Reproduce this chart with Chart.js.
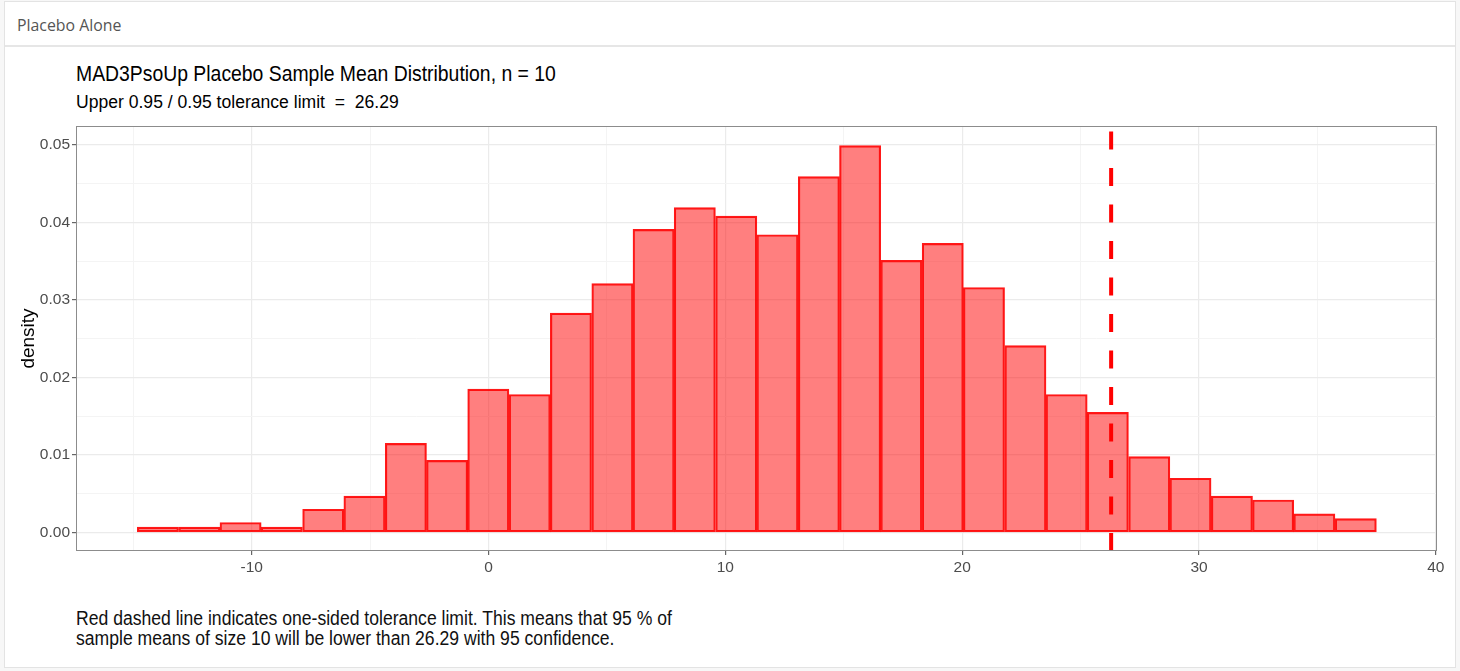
<!DOCTYPE html>
<html>
<head>
<meta charset="utf-8">
<title>Placebo Alone</title>
<script src="https://cdn.jsdelivr.net/npm/chart.js@4.4.0/dist/chart.umd.min.js"></script>
<style>
    html, body { margin: 0; padding: 0; }
    body {
        width: 1460px; height: 671px; position: relative; overflow: hidden;
        background: #f7f7f7;
        font-family: "Liberation Sans", Arial, sans-serif;
    }
    .panel {
        position: absolute; left: 4px; top: 1px; width: 1452px; height: 667px;
        background: #fff; border: 1px solid #e3e3e3; box-sizing: border-box;
    }
    .panel-head {
        position: absolute; left: 0; top: 0; right: 0; height: 43px;
        border-bottom: 2px solid #e6e6e6;
    }
    .fit { position: absolute; white-space: nowrap; transform-origin: 0 0; line-height: 1; }
    #head-text { left: 17px; top: 17px; font-family: "Open Sans", sans-serif; font-size: 16px; color: #555; }
    #plot-title { left: 76px; top: 63px; font-size: 22px; color: #000; }
    #plot-subtitle { left: 76px; top: 93px; font-size: 18px; color: #000; }
    #note { left: 76px; top: 609px; font-size: 20px; line-height: 19.5px; color: #111; }
    #chart-box { position: absolute; left: 10px; top: 120px; width: 1440px; height: 460px; }
</style>
</head>
<body>
<div class="panel">
    <div class="panel-head"></div>
</div>
<div class="fit" id="head-text" data-w="104">Placebo Alone</div>
<div class="fit" id="plot-title" data-w="480">MAD3PsoUp Placebo Sample Mean Distribution, n = 10</div>
<div class="fit" id="plot-subtitle" data-w="323">Upper 0.95 / 0.95 tolerance limit &nbsp;= &nbsp;26.29</div>
<div class="fit" id="note" data-w="596">Red dashed line indicates one-sided tolerance limit. This means that 95 % of<br>sample means of size 10 will be lower than 26.29 with 95 confidence.</div>
<div id="chart-box"><canvas id="hist" width="1440" height="460"></canvas></div>

<script>
// bin centres of the histogram (bin width ~1.744)
const binCenters = [-13.96, -12.21, -10.47, -8.73, -6.98, -5.24, -3.49, -1.75, -0.01, 1.74,
    3.48, 5.23, 6.97, 8.71, 10.46, 12.20, 13.95, 15.69, 17.43, 19.18,
    20.92, 22.67, 24.41, 26.15, 27.90, 29.64, 31.39, 33.13, 34.87, 36.62];
const density = [0.0007, 0.0007, 0.0013, 0.0007, 0.0030, 0.0047, 0.0115, 0.0093, 0.0185, 0.0178,
    0.0283, 0.0321, 0.0391, 0.0419, 0.0408, 0.0384, 0.0459, 0.0499, 0.0351, 0.0373,
    0.0316, 0.0241, 0.0178, 0.0155, 0.0098, 0.0070, 0.0047, 0.0042, 0.0024, 0.0018];
const tolLimit = 26.29;
const xTickLabels = [-10, 0, 10, 20, 30, 40];
const yTickLabels = ["0.00", "0.01", "0.02", "0.03", "0.04", "0.05"];

const xRange = [-17.42, 40.05];
const yRange = [-0.00238, 0.05243];

// shrink / widen each text block to the width it has in the reference
document.querySelectorAll(".fit").forEach(el => {
    const target = parseFloat(el.dataset.w);
    const w = el.scrollWidth;
    el.style.transform = `scaleX(${target / w})`;
});

const isMajorX = v => xTickLabels.some(t => Math.abs(t - v) < 1e-6);
const isMajorY = v => yTickLabels.some(t => Math.abs(parseFloat(t) - v) < 1e-6);

// full box round the plotting area, like theme_bw
const panelBorder = {
    id: "panelBorder",
    afterDraw(chart) {
        const {ctx, chartArea: a} = chart;
        ctx.save();
        ctx.strokeStyle = "#8c8c8c";
        ctx.lineWidth = 1;
        ctx.strokeRect(a.left + 0.5, a.top + 0.5, a.right - a.left - 1, a.bottom - a.top - 1);
        ctx.restore();
    }
};

const tickFont = {family: "'Liberation Sans', Arial, sans-serif", size: 15.5};

new Chart(document.getElementById("hist").getContext("2d"), {
    type: "bar",
    data: {
        datasets: [
            {
                type: "line",
                data: [{x: tolLimit, y: yRange[0]}, {x: tolLimit, y: yRange[1]}],
                borderColor: "#ff0000",
                borderWidth: 4,
                borderDash: [18, 18.5],
                borderCapStyle: "butt",
                pointRadius: 0,
                fill: false,
                order: 0
            },
            {
                data: binCenters.map((c, i) => ({x: c, y: density[i]})),
                backgroundColor: "rgba(255, 0, 0, 0.5)",
                borderColor: "rgba(255, 0, 0, 0.9)",
                borderWidth: 1.5,
                borderSkipped: false,
                barPercentage: 1,
                categoryPercentage: 1,
                order: 1
            }
        ]
    },
    options: {
        responsive: false,
        animation: false,
        layout: {padding: {left: 0, right: 13, top: 6, bottom: 0}},
        plugins: {legend: {display: false}, tooltip: {enabled: false}},
        scales: {
            x: {
                type: "linear",
                min: xRange[0],
                max: xRange[1],
                offset: false,
                border: {display: false},
                grid: {
                    offset: false,
                    color: c => isMajorX(c.tick.value) ? "#ebebeb" : "#f4f4f4",
                    lineWidth: c => isMajorX(c.tick.value) ? 1.2 : 1,
                    tickLength: 4,
                    tickColor: c => isMajorX(c.tick.value) ? "#666" : "rgba(0,0,0,0)"
                },
                ticks: {
                    stepSize: 5,
                    includeBounds: false,
                    autoSkip: false,
                    maxRotation: 0,
                    padding: 3,
                    color: "#4d4d4d",
                    font: tickFont,
                    callback: v => isMajorX(v) ? String(Math.round(v)) : ""
                },
                afterFit: s => {
                    s.height = 29;
                    s.paddingLeft = 0;
                    s.paddingRight = 0;
                }
            },
            y: {
                min: yRange[0],
                max: yRange[1],
                border: {display: false},
                grid: {
                    color: c => isMajorY(c.tick.value) ? "#ebebeb" : "#f4f4f4",
                    lineWidth: c => isMajorY(c.tick.value) ? 1.2 : 1,
                    tickLength: 4,
                    tickColor: c => isMajorY(c.tick.value) ? "#666" : "rgba(0,0,0,0)"
                },
                ticks: {
                    stepSize: 0.005,
                    includeBounds: false,
                    autoSkip: false,
                    padding: 2,
                    color: "#4d4d4d",
                    font: tickFont,
                    callback: v => isMajorY(v) ? v.toFixed(2) : ""
                },
                title: {
                    display: true,
                    text: "density",
                    color: "#000",
                    font: {family: "'Liberation Sans', Arial, sans-serif", size: 19},
                    padding: {top: 7, bottom: 0}
                },
                afterFit: s => {
                    s.width = 66;
                    s.paddingTop = 0;
                    s.paddingBottom = 0;
                }
            }
        }
    },
    plugins: [panelBorder]
});
</script>
</body>
</html>
